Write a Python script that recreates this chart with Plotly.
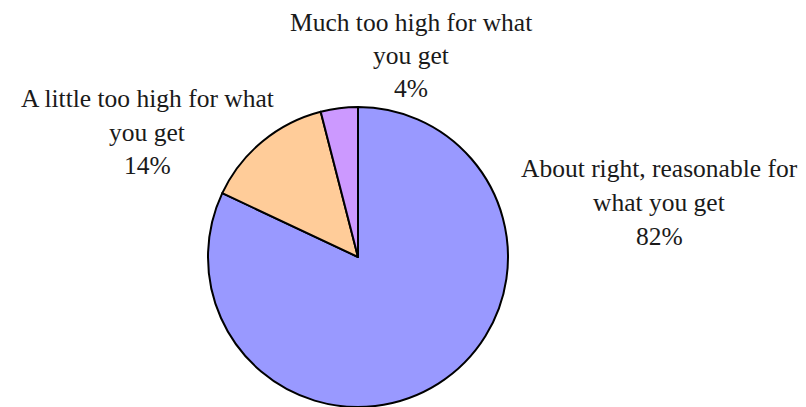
import plotly.graph_objects as go

# Data
labels = ["About right, reasonable for<br>what you get",
          "A little too high for what<br>you get",
          "Much too high for what<br>you get"]
values = [82, 14, 4]
pct_text = ["82%", "14%", "4%"]
colors = ["#9999FF", "#FFCC99", "#CC99FF"]

W, H = 806, 407

def px_x(x):
    return x / W

def px_y(y):
    return min(1.0, max(0.0, 1 - y / H))

fig = go.Figure(go.Pie(
    labels=[l.replace("<br>", " ") for l in labels],
    values=values,
    sort=False,
    direction="clockwise",
    rotation=0,
    textinfo="none",
    hoverinfo="label+percent",
    marker=dict(colors=colors, line=dict(color="black", width=2)),
    domain=dict(x=[px_x(208), px_x(508)], y=[px_y(407), px_y(107)]),
    showlegend=False,
))

# label block centres (pixels) and line spacing
label_pos = [(659, 169), (147, 99), (411, 22)]
line_gap = 33.5
font = dict(family="Liberation Serif", size=25.5, color="#1a1a1a")
for lab, pct, (cx, cy) in zip(labels, pct_text, label_pos):
    lines = lab.split("<br>") + [pct]
    for i, ln in enumerate(lines):
        fig.add_annotation(
            x=px_x(cx), y=px_y(cy + i * line_gap),
            xref="paper", yref="paper",
            text=ln, showarrow=False,
            xanchor="center", yanchor="middle",
            borderpad=0,
            font=font,
        )

fig.update_layout(
    width=W, height=H,
    margin=dict(l=0, r=0, t=0, b=0),
    paper_bgcolor="white",
    plot_bgcolor="white",
)

fig.write_html("out.html", config={"displayModeBar": False},
               post_script="document.body.style.margin='0';")
